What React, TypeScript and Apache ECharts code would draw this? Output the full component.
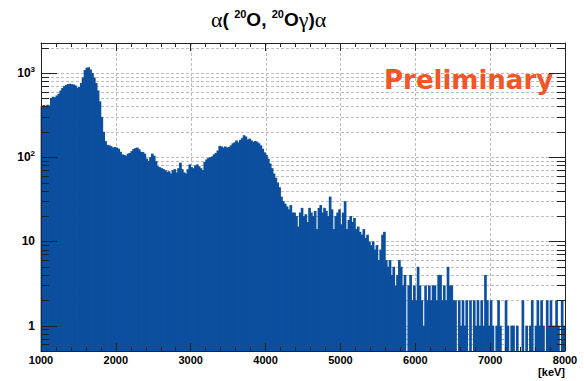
import React, { useEffect, useRef } from 'react';
import * as echarts from 'echarts';

// ---- data ----
const BIN_START = 1000; // keV
const BIN_WIDTH = 25; // keV
const X_MIN = 1000;
const X_MAX = 8000;
const Y_MIN = 0.5;
const Y_MAX = 2265;

const counts1000 = [
  400, 415, 405, 420, 410, 505, 520, 515, 540, 565,
  620, 660, 700, 720, 740, 745, 735, 730, 710, 665,
  680, 760, 880, 1080, 1150, 1170, 1100, 1000, 880, 760,
  620, 460, 300, 200, 155, 140, 138, 135, 130, 132,
];
const counts2000 = [
  130, 126, 116, 108, 106, 104, 110, 112, 118, 125,
  128, 130, 124, 116, 115, 110, 96, 90, 100, 110,
  104, 90, 78, 76, 74, 72, 70, 67, 68, 64,
  70, 72, 66, 74, 86, 72, 66, 64, 72, 82,
];
const counts3000 = [
  76, 74, 80, 82, 78, 74, 70, 88, 94, 98,
  100, 102, 108, 112, 120, 136, 134, 130, 134, 130,
  132, 138, 146, 150, 158, 150, 160, 168, 182, 176,
  162, 166, 158, 152, 155, 152, 146, 138, 126, 114,
];
const counts4000 = [
  106, 96, 84, 74, 64, 57, 50, 44, 34, 30,
  28, 26, 24, 27, 22, 22, 20, 15, 22, 25,
  20, 21, 17, 25, 22, 20, 23, 14, 25, 27,
  22, 25, 23, 20, 34, 24, 14, 20, 22, 24,
];
const counts5000 = [
  16, 22, 30, 14, 18, 20, 17, 19, 14, 15,
  13, 12, 14, 11, 12, 10, 9, 10, 8, 9,
  6, 8, 12, 13, 6, 5, 6, 4, 5, 3,
  4, 6, 5, 3, 4, 0, 3, 4, 2, 3,
];
const counts6000 = [
  2, 5, 3, 2, 1, 3, 2, 3, 2, 3,
  3, 2, 4, 4, 2, 3, 2, 5, 3, 3,
  2, 2, 0, 2, 1, 2, 1, 2, 0, 2,
  0, 2, 1, 2, 1, 2, 1, 4, 2, 1,
];
const counts7000 = [
  2, 1, 0, 1, 2, 1, 0, 0, 2, 1,
  0, 1, 1, 0, 1, 0, 0, 2, 0, 1,
  0, 1, 2, 0, 1, 2, 1, 2, 1, 0,
  2, 1, 2, 1, 1, 2, 1, 0, 2, 1,
];

const counts = [
  ...counts1000, ...counts2000, ...counts3000, ...counts4000,
  ...counts5000, ...counts6000, ...counts7000,
];

const xGridValues = [2000, 3000, 4000, 5000, 6000, 7000];
const yTickValues = [
  0.6, 0.7, 0.8, 0.9,
  1, 2, 3, 4, 5, 6, 7, 8, 9,
  10, 20, 30, 40, 50, 60, 70, 80, 90,
  100, 200, 300, 400, 500, 600, 700, 800, 900,
  1000, 2000,
];

const TITLE = '{g|α}{b|( }{s|20}{b|O, }{s|20}{b|O}{g|γ}{b|)}{g|α}';
const PRELIM = 'Preliminary';
const X_UNIT = '[keV]';

const BAR_COLOR = '#0c4f9f';
const GRID_COLOR = '#bdbdbd';
const FRAME_COLOR = '#222';

function isDecade(v: number) {
  const e = Math.log10(v);
  return Math.abs(e - Math.round(e)) < 1e-6;
}

export default function App() {
  const ref = useRef<HTMLDivElement>(null);

  useEffect(() => {
    if (!ref.current) return;
    const chart = echarts.init(ref.current, undefined, { renderer: 'svg' });

    const histData = counts
      .map((c, i) => [BIN_START + i * BIN_WIDTH, c])
      .filter((d) => d[1] > 0);

    const labelFont = { fontFamily: 'Liberation Sans', fontWeight: 'bold' as const, color: '#000' };

    const option: any = {
      animation: false,
      backgroundColor: '#fff',
      grid: { left: 41, right: 19, top: 43, bottom: 30, containLabel: false },
      xAxis: [
        {
          type: 'value', min: X_MIN, max: X_MAX, interval: 1000, position: 'bottom', z: 5,
          axisLine: { show: true, lineStyle: { color: FRAME_COLOR, width: 1 } },
          axisTick: { show: true, inside: true, length: 8, lineStyle: { color: FRAME_COLOR } },
          minorTick: { show: true, splitNumber: 5, length: 4, lineStyle: { color: FRAME_COLOR } },
          splitLine: { show: false },
          axisLabel: {
            ...labelFont, fontSize: 11, margin: 3, showMinLabel: true, showMaxLabel: true,
            formatter: (v: number) => String(v),
          },
        },
        {
          type: 'value', min: X_MIN, max: X_MAX, interval: 1000, position: 'top', z: 5,
          axisLine: { show: true, onZero: false, lineStyle: { color: FRAME_COLOR, width: 1 } },
          axisTick: { show: true, inside: true, length: 8, lineStyle: { color: FRAME_COLOR } },
          minorTick: { show: true, splitNumber: 5, length: 4, lineStyle: { color: FRAME_COLOR } },
          splitLine: { show: false },
          axisLabel: { show: false },
        },
      ],
      yAxis: [
        {
          type: 'log', logBase: 10, min: Y_MIN, max: Y_MAX, position: 'left', z: 5,
          axisLine: { show: true, lineStyle: { color: FRAME_COLOR, width: 1 } },
          axisTick: { show: false },
          splitLine: { show: false },
          axisLabel: {
            ...labelFont, fontSize: 12, margin: 6,
            formatter: (v: number) => {
              if (!isDecade(v)) return '';
              const e = Math.round(Math.log10(v));
              if (e === 0) return '1';
              if (e === 1) return '10';
              return '10{sup|' + e + '}';
            },
            rich: {
              sup: { fontFamily: 'Liberation Sans', fontWeight: 'bold', fontSize: 8, color: '#000', verticalAlign: 'top', padding: [0, 0, 7, 0] },
            },
          },
        },
        {
          type: 'log', logBase: 10, min: Y_MIN, max: Y_MAX, position: 'right', z: 5,
          axisLine: { show: true, onZero: false, lineStyle: { color: FRAME_COLOR, width: 1 } },
          axisTick: { show: false },
          splitLine: { show: false },
          axisLabel: { show: false },
        },
      ],
      series: [
        {
          type: 'custom', name: 'hgrid', silent: true, z: 1,
          data: yTickValues.map((v) => [X_MIN, v]),
          renderItem: (params: any, api: any) => {
            const v = api.value(1);
            const a = api.coord([X_MIN, v]);
            const b = api.coord([X_MAX, v]);
            const y = Math.round(a[1]) + 0.5;
            return {
              type: 'line',
              shape: { x1: a[0], y1: y, x2: b[0], y2: y },
              style: { stroke: GRID_COLOR, lineWidth: 1, lineDash: [3, 2] },
            };
          },
        },
        {
          type: 'custom', name: 'vgrid', silent: true, z: 1,
          data: xGridValues.map((v) => [v, Y_MIN]),
          renderItem: (params: any, api: any) => {
            const v = api.value(0);
            const a = api.coord([v, Y_MIN]);
            const b = api.coord([v, Y_MAX]);
            const x = Math.round(a[0]) + 0.5;
            return {
              type: 'line',
              shape: { x1: x, y1: a[1], x2: x, y2: b[1] },
              style: { stroke: GRID_COLOR, lineWidth: 1, lineDash: [3, 2] },
            };
          },
        },
        {
          type: 'custom', name: 'hist', silent: true, z: 2,
          data: histData,
          renderItem: (params: any, api: any) => {
            const x0 = api.value(0);
            const c = api.value(1);
            const tl = api.coord([x0, c]);
            const br = api.coord([x0 + BIN_WIDTH, Y_MIN]);
            return {
              type: 'rect',
              shape: { x: tl[0] - 0.4, y: tl[1], width: br[0] - tl[0] + 0.8, height: br[1] - tl[1] },
              style: { fill: BAR_COLOR },
            };
          },
        },
        {
          type: 'custom', name: 'yticks', silent: true, z: 4,
          data: yTickValues.map((v) => [X_MIN, v]),
          renderItem: (params: any, api: any) => {
            const v = api.value(1);
            const a = api.coord([X_MIN, v]);
            const b = api.coord([X_MAX, v]);
            const y = Math.round(a[1]) + 0.5;
            const len = isDecade(v) ? 16 : 8;
            return {
              type: 'group',
              children: [
                { type: 'line', shape: { x1: a[0], y1: y, x2: a[0] + len, y2: y }, style: { stroke: FRAME_COLOR, lineWidth: 1 } },
                { type: 'line', shape: { x1: b[0] - len, y1: y, x2: b[0], y2: y }, style: { stroke: FRAME_COLOR, lineWidth: 1 } },
              ],
            };
          },
        },
      ],
      graphic: [
        {
          type: 'text', left: 211, top: 8, z: 10,
          style: {
            text: TITLE,
            fill: '#000',
            rich: {
              g: { fontFamily: 'Liberation Serif', fontSize: 22, fill: '#000' },
              b: { fontFamily: 'Liberation Sans', fontWeight: 'bold', fontSize: 19, fill: '#000' },
              s: { fontFamily: 'Liberation Sans', fontWeight: 'bold', fontSize: 11, fill: '#000', verticalAlign: 'top', padding: [0, 0, 9, 0] },
            },
          },
        },
        {
          type: 'text', left: 384, top: 67, z: 10,
          style: { text: PRELIM, fill: '#f25526', font: 'bold 26px "DejaVu Sans"' },
        },
        {
          type: 'text', right: 19, top: 366, z: 10,
          style: { text: X_UNIT, fill: '#000', font: 'bold 11px "Liberation Sans"' },
        },
      ],
    };

    chart.setOption(option);
    return () => chart.dispose();
  }, []);

  return (
    <div
      ref={ref}
      style={{ position: 'absolute', left: 0, top: 0, width: 584, height: 381, background: '#fff' }}
    />
  );
}
